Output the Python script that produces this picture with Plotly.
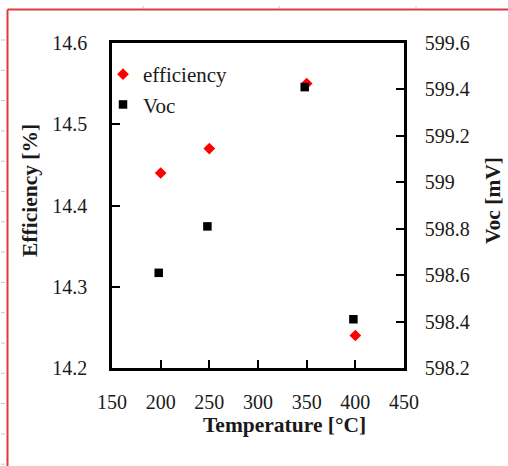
import plotly.graph_objects as go

# ---- data ----
temp_eff = [200, 250, 350, 400]
efficiency = [14.44, 14.47, 14.55, 14.24]
temp_voc = [198, 248, 348, 398]
voc = [598.61, 598.81, 599.41, 598.41]

x_ticks = [150, 200, 250, 300, 350, 400, 450]
eff_ticks = [14.2, 14.3, 14.4, 14.5, 14.6]
voc_ticks = [598.2, 598.4, 598.6, 598.8, 599.0, 599.2, 599.4, 599.6]
voc_labels = ["598.2", "598.4", "598.6", "598.8", "599", "599.2", "599.4", "599.6"]

W, H = 508, 466
L, R, T, B = 112, 404, 43, 368
PW, PH = R - L, B - T

def px(x):
    return (x - L) / PW

def py(y):
    return (B - y) / PH

FONT = "Liberation Serif"
TXT = "#1a1a1a"

fig = go.Figure()
fig.add_trace(go.Scatter(x=temp_eff, y=efficiency, mode="markers", name="efficiency",
                         marker=dict(symbol="diamond", size=9, color="#ff0000"),
                         yaxis="y"))
fig.add_trace(go.Scatter(x=temp_voc, y=voc, mode="markers", name="Voc",
                         marker=dict(symbol="square", size=8.5, color="#000000"),
                         yaxis="y2"))

axis_common = dict(showgrid=False, zeroline=False, showline=True, linecolor="black",
                   linewidth=2.5, ticks="inside", ticklen=8, tickwidth=1.5, tickcolor="black",
                   automargin=False,
                   tickfont=dict(family=FONT, size=20, color=TXT))

fig.update_layout(
    width=W, height=H,
    margin=dict(l=L, r=W - R, t=T, b=H - B, autoexpand=False),
    paper_bgcolor="white", plot_bgcolor="white",
    showlegend=True,
    legend=dict(x=px(103), y=py(54), xanchor="left", yanchor="top",
                bgcolor="rgba(0,0,0,0)", font=dict(family=FONT, size=21, color=TXT),
                tracegroupgap=0, itemwidth=30),
    xaxis=dict(range=[150, 450], tickvals=x_ticks, mirror=True,
               ticklabelstandoff=14, **axis_common),
    yaxis=dict(range=[14.2, 14.6], tickvals=eff_ticks, ticktext=[f"{v:.1f}" for v in eff_ticks],
               ticklabelstandoff=18, **axis_common),
    yaxis2=dict(range=[598.2, 599.6], tickvals=voc_ticks, ticktext=voc_labels,
                overlaying="y", side="right", ticklabelstandoff=14, **axis_common),
)

ann_font = dict(family=FONT, size=21.5, color=TXT)
fig.add_annotation(text="<b>Temperature [°C]</b>", xref="paper", yref="paper",
                   x=px(284), y=py(425), xanchor="center", yanchor="middle",
                   showarrow=False, font=ann_font)
fig.add_annotation(text="<b>Efficiency [%]</b>", xref="paper", yref="paper",
                   x=px(30), y=py(191), xanchor="center", yanchor="middle",
                   showarrow=False, textangle=-90, font=ann_font)
fig.add_annotation(text="<b>Voc [mV]</b>", xref="paper", yref="paper",
                   x=px(493), y=py(201), xanchor="center", yanchor="middle",
                   showarrow=False, textangle=-90, font=ann_font)

# page frame (red border) and ruler marks
red = "#d93b43"
fig.add_shape(type="line", xref="paper", yref="paper", x0=px(7.5), x1=px(510),
              y0=py(9.5), y1=py(9.5), line=dict(color=red, width=2))
fig.add_shape(type="line", xref="paper", yref="paper", x0=px(7.5), x1=px(7.5),
              y0=py(9.5), y1=py(470), line=dict(color=red, width=2))
gray = "#c4c4c4"
for xm in [143, 279, 416]:
    fig.add_shape(type="line", xref="paper", yref="paper", x0=px(xm), x1=px(xm),
                  y0=py(6), y1=py(9), line=dict(color=gray, width=1))
for k in range(15):
    ym = 40 + 30.3 * k
    fig.add_shape(type="line", xref="paper", yref="paper", x0=px(1), x1=px(5),
                  y0=py(ym), y1=py(ym), line=dict(color=gray, width=1))

fig.write_html("out.html", config={"displayModeBar": False},
               post_script="document.body.style.margin='0';")
